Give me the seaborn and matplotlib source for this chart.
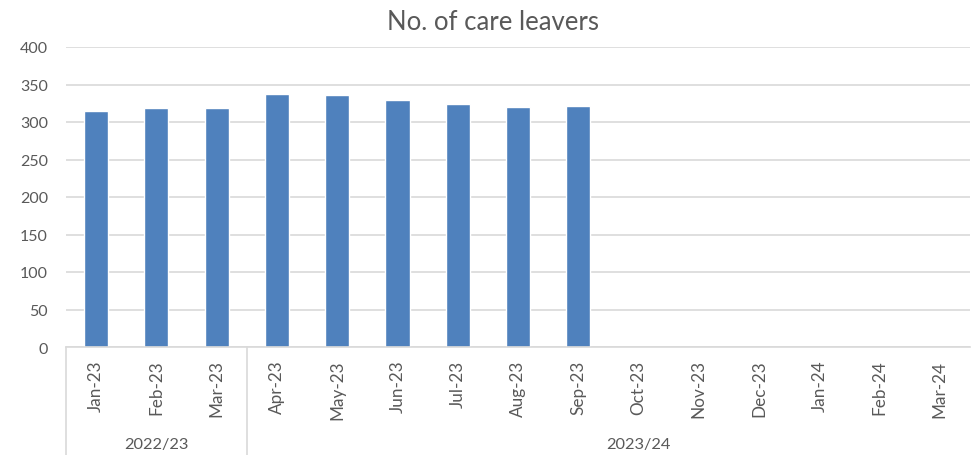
import pandas as pd
import numpy as np
import matplotlib.pyplot as plt
import matplotlib.transforms as mtransforms
import seaborn as sns

# Data
months = ['Jan-23', 'Feb-23', 'Mar-23', 'Apr-23', 'May-23', 'Jun-23', 'Jul-23', 'Aug-23',
          'Sep-23', 'Oct-23', 'Nov-23', 'Dec-23', 'Jan-24', 'Feb-24', 'Mar-24']
reported_months = months[:9]
care_leavers = [315, 319, 319, 337, 336, 329, 324, 320, 322]
years = ['2022/23', '2023/24']
year_first_month = ['Jan-23', 'Apr-23']

data = pd.DataFrame({'month': reported_months, 'care_leavers': care_leavers})

sns.set_style('white')
plt.rcParams['font.family'] = ['Lato', 'DejaVu Sans']

grey = '#595959'
line_grey = '#D9D9D9'

fig = plt.figure(figsize=(9.78, 4.56), dpi=100)
ax = fig.add_axes([66 / 978, 1 - 348 / 456, 904 / 978, 300 / 456])

sns.barplot(data=data, x='month', y='care_leavers', order=months, color='#4F81BD',
            saturation=1, width=0.4, ax=ax)

ax.set_xlim(-0.5, len(months) - 0.5)
ax.set_ylim(0, 400)
ax.set_yticks(np.arange(0, 401, 50))
ax.grid(axis='y', color=line_grey, linewidth=1.2)
ax.set_axisbelow(True)
ax.set_xlabel('')
ax.set_ylabel('')
for s in ['top', 'right', 'left']:
    ax.spines[s].set_visible(False)
ax.spines['bottom'].set_color(line_grey)
ax.spines['bottom'].set_linewidth(1.2)

ax.tick_params(axis='y', length=0, pad=13, labelsize=11.5, labelcolor=grey)
ax.tick_params(axis='x', length=0, pad=9, labelsize=12.3, labelcolor=grey)
plt.setp(ax.get_xticklabels(), rotation=90, va='top', ha='center')

# fiscal year group labels under the month labels
trans = mtransforms.blended_transform_factory(ax.transData, fig.transFigure)
bottom = 1 - 348 / 456
starts = [months.index(m) for m in year_first_month]
for i, yr in enumerate(years):
    x0 = starts[i] - 0.5
    ax.add_line(plt.Line2D([x0, x0], [bottom, 0], transform=trans, color=line_grey,
                           linewidth=1.2, clip_on=False))
    x1 = starts[i + 1] - 0.5 if i + 1 < len(starts) else len(months) + 0.5
    ax.text((x0 + x1) / 2, 1 - 445 / 456, yr, transform=trans, ha='center', va='center',
            fontsize=11.8, color=grey)

fig.text(0.504, 1 - 22 / 456, 'No. of care leavers', ha='center', va='center',
         fontsize=18.5, color=grey)

fig.savefig('out.png', dpi=100)
